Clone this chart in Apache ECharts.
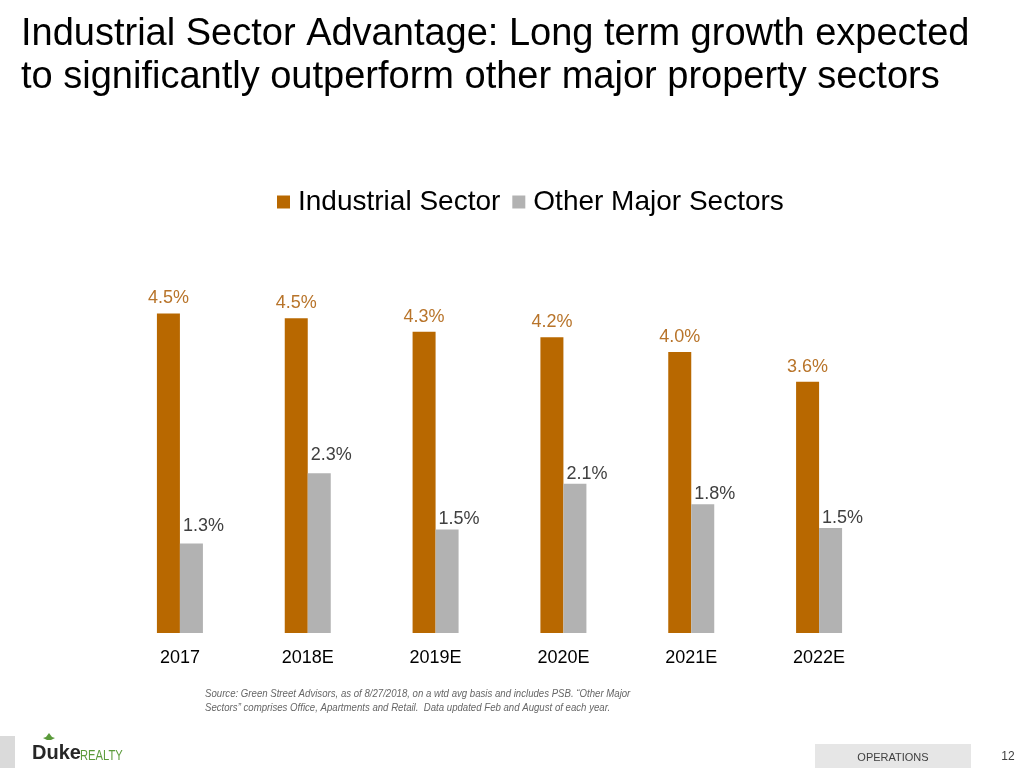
<!DOCTYPE html>
<html>
<head>
<meta charset="utf-8">
<script src="https://cdn.jsdelivr.net/npm/echarts@6/dist/echarts.min.js"></script>
<style>
  html, body { margin: 0; padding: 0; background: #ffffff; }
  #chart { width: 1024px; height: 768px; }
</style>
</head>
<body>
<div id="chart"></div>
<script>
const categories = ['2017', '2018E', '2019E', '2020E', '2021E', '2022E'];
const industrial = [4.54, 4.47, 4.28, 4.20, 3.99, 3.57];
const otherMajor = [1.27, 2.27, 1.47, 2.12, 1.83, 1.49];
const seriesNames = ['Industrial Sector', 'Other Major Sectors'];
const titleLines = [
  'Industrial Sector Advantage: Long term growth expected',
  'to significantly outperform other major property sectors'
];
const sourceLines = [
  'Source: Green Street Advisors, as of 8/27/2018, on a wtd avg basis and includes PSB. \u201cOther Major',
  'Sectors\u201d comprises Office, Apartments and Retail.  Data updated Feb and August of each year.'
];

const FONT = '"Liberation Sans", Arial, sans-serif';
const chart = echarts.init(document.getElementById('chart'));

const pct = p => p.value.toFixed(1) + '%';
const pctItem = p => (typeof p.value === 'number' ? p.value : p.data.value).toFixed(1) + '%';

chart.setOption({
  backgroundColor: '#ffffff',
  animation: false,
  textStyle: { fontFamily: FONT },
  legend: {
    data: seriesNames,
    left: 272,
    top: 183,
    itemWidth: 13,
    itemHeight: 13,
    itemGap: 12,
    icon: 'rect',
    textStyle: { fontSize: 28, color: '#000000', fontFamily: FONT, padding: [0, 0, 0, 3] }
  },
  grid: { left: 116, right: 141, top: 281, bottom: 135 },
  xAxis: {
    type: 'category',
    data: categories,
    axisLine: { show: false },
    axisTick: { show: false },
    axisLabel: { fontSize: 18, color: '#000000', margin: 16, fontFamily: FONT }
  },
  yAxis: {
    type: 'value',
    min: 0,
    max: 5,
    show: false,
    splitLine: { show: false }
  },
  series: [
    {
      name: seriesNames[0],
      type: 'bar',
      data: industrial,
      barWidth: 23,
      barGap: '0%',
      itemStyle: { color: '#B86800' },
      label: {
        show: true,
        position: 'top',
        distance: 6,
        fontSize: 18,
        color: '#B8742A',
        fontFamily: FONT,
        formatter: pct
      }
    },
    {
      name: seriesNames[1],
      type: 'bar',
      data: otherMajor.map((v, i) => i < 2 ? { value: v, label: { distance: 9 } } : v),
      barWidth: 23,
      barGap: '0%',
      itemStyle: { color: '#B2B2B2' },
      label: {
        show: true,
        position: 'top',
        distance: 1,
        offset: [12, 0],
        fontSize: 18,
        color: '#404040',
        fontFamily: FONT,
        formatter: pctItem
      }
    }
  ],
  graphic: [
    { type: 'text', left: 21, top: 16, style: { text: titleLines[0], font: '38px ' + FONT, fill: '#000000' } },
    { type: 'text', left: 21, top: 59, style: { text: titleLines[1], font: '38px ' + FONT, fill: '#000000' } },
    { type: 'text', x: 205, y: 688, scaleX: 0.875, style: { text: sourceLines[0], font: 'italic 11px ' + FONT, fill: '#666666' } },
    { type: 'text', x: 205, y: 702, scaleX: 0.875, style: { text: sourceLines[1], font: 'italic 11px ' + FONT, fill: '#666666' } },
    { type: 'rect', shape: { x: 0, y: 736, width: 15, height: 32 }, style: { fill: '#DADADA' } },
    { type: 'text', x: 32, y: 743, style: { text: 'Duke', font: 'bold 20px ' + FONT, fill: '#262626' } },
    { type: 'text', x: 80, y: 749, scaleX: 0.8, style: { text: 'REALTY', font: '14px ' + FONT, fill: '#5A9A3A' } },
    { type: 'polygon', shape: { points: [[49, 733], [52, 737], [55, 738], [51, 740], [47, 740], [43, 738], [46, 737]] }, style: { fill: '#5A9A3A' } },
    { type: 'rect', shape: { x: 815, y: 744, width: 156, height: 24 }, style: { fill: '#E6E6E6' } },
    { type: 'text', x: 893, y: 758, style: { text: 'OPERATIONS', font: '11px ' + FONT, fill: '#404040', align: 'center', verticalAlign: 'middle' } },
    { type: 'text', x: 1008, y: 757, style: { text: '12', font: '12px ' + FONT, fill: '#404040', align: 'center', verticalAlign: 'middle' } }
  ]
});
</script>
</body>
</html>
